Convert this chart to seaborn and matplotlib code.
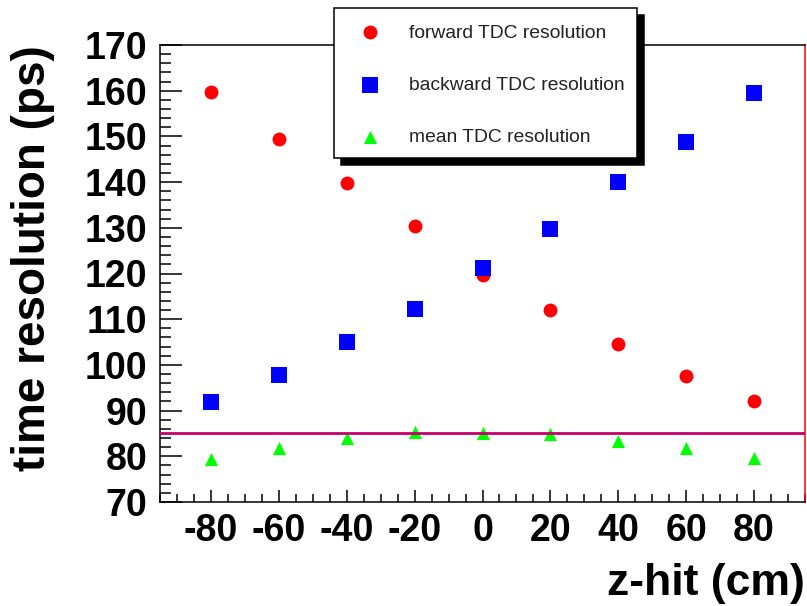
import numpy as np
import pandas as pd
import matplotlib
matplotlib.use("Agg")
import matplotlib.pyplot as plt
import seaborn as sns
from matplotlib.patches import Rectangle
from matplotlib.ticker import MultipleLocator

# ---- data ----
z_hit = [-80, -60, -40, -20, 0, 20, 40, 60, 80]
forward_res = [159.7, 149.4, 139.8, 130.4, 119.6, 112.0, 104.6, 97.6, 92.1]
backward_res = [91.9, 97.8, 105.0, 112.2, 121.2, 129.7, 140.0, 148.8, 159.5]
mean_res = [79.3, 81.8, 84.0, 85.3, 85.2, 84.8, 83.3, 81.8, 79.6]
reference_level = 85
x_ticks = [-80, -60, -40, -20, 0, 20, 40, 60, 80]
y_ticks = [70, 80, 90, 100, 110, 120, 130, 140, 150, 160, 170]
labels = ["forward TDC resolution", "backward TDC resolution", "mean TDC resolution"]

df = pd.DataFrame({"z": z_hit, "forward": forward_res,
                   "backward": backward_res, "mean": mean_res})

sns.set_style("white")
plt.rcParams["font.family"] = ["Liberation Sans", "DejaVu Sans"]
plt.rcParams["axes.unicode_minus"] = False
plt.rcParams["text.color"] = "black"
plt.rcParams["axes.labelcolor"] = "black"
plt.rcParams["xtick.color"] = "black"
plt.rcParams["ytick.color"] = "black"

W, H = 807, 606
fig = plt.figure(figsize=(W / 100, H / 100), dpi=100)
ax = fig.add_axes([160 / W, 1 - 502 / H, (805 - 160) / W, (502 - 45) / H])

sns.scatterplot(data=df, x="z", y="forward", color="#ff0000", marker="o",
                s=100, linewidth=0, ax=ax, label=labels[0], legend=False, zorder=3)
sns.scatterplot(data=df, x="z", y="backward", color="#0000ff", marker="s",
                s=130, linewidth=0, ax=ax, label=labels[1], legend=False, zorder=3)
sns.scatterplot(data=df, x="z", y="mean", color="#00ff00", marker="^",
                s=90, linewidth=0, ax=ax, label=labels[2], legend=False, zorder=3)
ax.axhline(reference_level, color="#c8006e", lw=2.0, zorder=4)

ax.set_xlim(-95, 95)
ax.set_ylim(70, 170)
ax.set_xticks(x_ticks)
ax.set_yticks(y_ticks)
ax.xaxis.set_minor_locator(MultipleLocator(5))
ax.yaxis.set_minor_locator(MultipleLocator(2))
ax.tick_params(which="both", direction="in", top=False, right=False,
               left=True, bottom=True, width=1.1, color="black",
               labelcolor="black")
ax.tick_params(axis="y", which="major", length=15.5, pad=9)
ax.tick_params(axis="y", which="minor", length=8)
ax.tick_params(axis="x", which="major", length=9, pad=8)
ax.tick_params(axis="x", which="minor", length=5.5)
for lab in ax.get_xticklabels() + ax.get_yticklabels():
    lab.set_fontsize(27)
    lab.set_fontweight("bold")

for side in ["left", "bottom", "top"]:
    ax.spines[side].set_color("black")
    ax.spines[side].set_linewidth(1.1)
ax.spines["right"].set_color("#ff0000")
ax.spines["right"].set_linewidth(1.1)

ax.set_xlabel("z-hit (cm)", fontsize=32, fontweight="bold", loc="right",
              color="black")
ax.xaxis.set_label_coords(1.0, -0.134)
ax.set_ylabel("time resolution (ps)", fontsize=33, fontweight="bold", loc="top",
              color="black")
ax.yaxis.set_label_coords(-0.163, 1.0)

# legend box with shadow
bx0, by0, bx1, by1 = 334, 8, 637, 158
off = 7
shadow = Rectangle(((bx0 + off) / W, 1 - (by1 + off) / H), (bx1 - bx0) / W,
                   (by1 - by0) / H, transform=fig.transFigure,
                   facecolor="black", edgecolor="black", lw=1.1, zorder=9)
frame = Rectangle((bx0 / W, 1 - by1 / H), (bx1 - bx0) / W, (by1 - by0) / H,
                  transform=fig.transFigure, facecolor="white",
                  edgecolor="black", lw=1.1, zorder=10)
fig.add_artist(shadow)
fig.add_artist(frame)

handles, labs = ax.get_legend_handles_labels()
leg = fig.legend(handles, labs, loc="upper left",
                 bbox_to_anchor=(360.4 / W, 1 - 24 / H),
                 bbox_transform=fig.transFigure, frameon=False,
                 fontsize=13.9, handlelength=1.0, handletextpad=1.52,
                 labelspacing=1.81, borderpad=0, borderaxespad=0,
                 scatterpoints=1)
leg.set_zorder(11)
for t in leg.get_texts():
    t.set_color("#222222")

fig.savefig("out.png", dpi=100)
